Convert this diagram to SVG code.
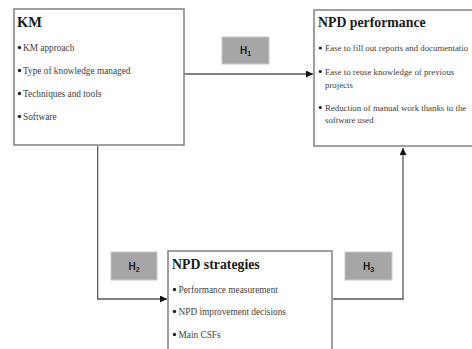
<svg xmlns="http://www.w3.org/2000/svg" width="472" height="349" viewBox="0 0 472 349">
<style>
.box{fill:#fff;stroke:#808080;stroke-width:1.5}
.hbox{fill:#a6a6a6;stroke:#c8c8c8;stroke-width:1}
.title{font-family:"Liberation Serif",serif;font-weight:bold;fill:#1a1a1a}
.item{font-family:"Liberation Serif",serif;font-size:9.3px;fill:#404040}
.small{font-size:8.8px}
.h{font-family:"Liberation Sans",Arial,sans-serif;font-weight:bold;font-size:10px;fill:#222}
.conn{fill:none;stroke:#5a5a5a;stroke-width:1.3}
.dot{fill:#222}
</style>
<defs>
<marker id="arr" viewBox="0 0 10 10" refX="10" refY="5" markerWidth="7" markerHeight="7" markerUnits="userSpaceOnUse" orient="auto">
<path d="M0,0 L10,5 L0,10 z" fill="#111"/>
</marker>
</defs>
<rect width="472" height="349" fill="#fff"/>
<g id="connectors">
<line class="conn" x1="184" y1="74" x2="313" y2="74" marker-end="url(#arr)"/>
<polyline class="conn" points="97.7,146 97.7,299 167,299" marker-end="url(#arr)"/>
<polyline class="conn" points="333,299 403,299 403,148" marker-end="url(#arr)"/>
</g>
<g id="km">
<rect class="box" x="14" y="9" width="170" height="136"/>
<text class="title" x="17" y="27" font-size="14.5">KM</text>
<circle class="dot" cx="19.5" cy="47.5" r="1.7"/><text class="item" x="23" y="51">KM approach</text>
<circle class="dot" cx="19.5" cy="70.5" r="1.7"/><text class="item" x="23" y="74">Type of knowledge managed</text>
<circle class="dot" cx="19.5" cy="93.5" r="1.7"/><text class="item" x="23" y="97">Techniques and tools</text>
<circle class="dot" cx="19.5" cy="116.5" r="1.7"/><text class="item" x="23" y="120">Software</text>
</g>
<g id="npd-performance">
<rect class="box" x="314" y="10" width="170" height="136"/>
<text class="title" x="318" y="27" font-size="13.8">NPD performance</text>
<circle class="dot" cx="320.3" cy="48" r="1.6"/><text class="item small" x="325" y="51">Ease to fill out reports and documentatio</text>
<circle class="dot" cx="320.3" cy="71.5" r="1.6"/><text class="item small" x="325" y="75">Ease to reuse knowledge of previous</text>
<text class="item small" x="325" y="87.5">projects</text>
<circle class="dot" cx="320.3" cy="107.5" r="1.6"/><text class="item small" x="325" y="111">Reduction of manual work thanks to the</text>
<text class="item small" x="325" y="123">software used</text>
</g>
<g id="npd-strategies">
<rect class="box" x="168" y="251" width="164" height="110"/>
<text class="title" x="172" y="269" font-size="13.8">NPD strategies</text>
<circle class="dot" cx="174.5" cy="289.5" r="1.7"/><text class="item" x="178.5" y="293">Performance measurement</text>
<circle class="dot" cx="174.5" cy="311.5" r="1.7"/><text class="item" x="178.5" y="315">NPD improvement decisions</text>
<circle class="dot" cx="174.5" cy="334.5" r="1.7"/><text class="item" x="178.5" y="338">Main CSFs</text>
</g>
<g id="h1">
<rect class="hbox" x="222" y="37" width="47" height="27"/>
<text class="h" x="245.5" y="54" text-anchor="middle">H<tspan font-size="7" dy="2">1</tspan></text>
</g>
<g id="h2">
<rect class="hbox" x="111" y="252" width="46" height="28"/>
<text class="h" x="134" y="270" text-anchor="middle">H<tspan font-size="7" dy="2">2</tspan></text>
</g>
<g id="h3">
<rect class="hbox" x="345" y="252" width="47" height="28"/>
<text class="h" x="368.5" y="270" text-anchor="middle">H<tspan font-size="7" dy="2">3</tspan></text>
</g>
</svg>
